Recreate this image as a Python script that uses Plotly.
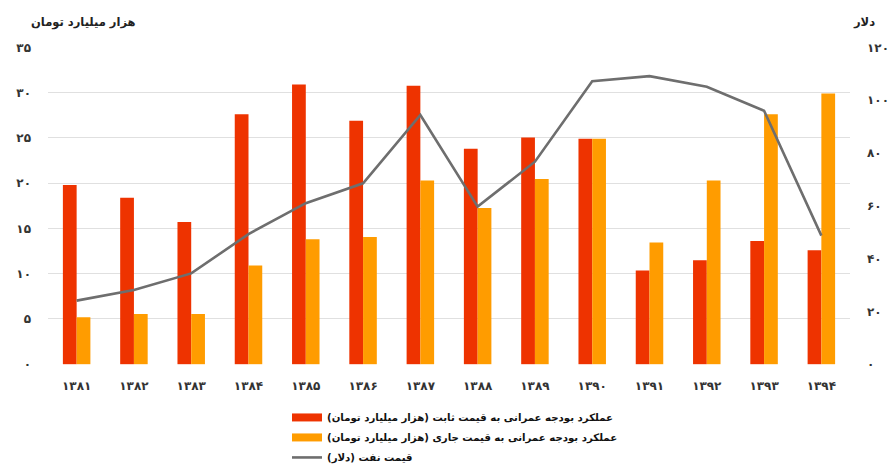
import plotly.graph_objects as go

years = ["۱۳۸۱", "۱۳۸۲", "۱۳۸۳", "۱۳۸۴", "۱۳۸۵", "۱۳۸۶", "۱۳۸۷",
         "۱۳۸۸", "۱۳۸۹", "۱۳۹۰", "۱۳۹۱", "۱۳۹۲", "۱۳۹۳", "۱۳۹۴"]
constant_price = [19.8, 18.4, 15.7, 27.6, 30.9, 26.9, 30.75, 23.8, 25.05, 24.9, 10.35, 11.5, 13.6, 12.6]
current_price = [5.2, 5.55, 5.55, 10.9, 13.8, 14.05, 20.3, 17.25, 20.45, 24.9, 13.45, 20.3, 27.6, 29.9]
oil_price = [24.1, 28.1, 34.4, 49.3, 61.0, 68.5, 94.4, 59.7, 76.7, 107.2, 109.1, 105.1, 96.0, 48.7]

left_vals = [0, 5, 10, 15, 20, 25, 30, 35]
left_text = ["۰", "۵", "۱۰", "۱۵", "۲۰", "۲۵", "۳۰", "۳۵"]
right_vals = [0, 20, 40, 60, 80, 100, 120]
right_text = ["۰", "۲۰", "۴۰", "۶۰", "۸۰", "۱۰۰", "۱۲۰"]

name_const = "عملکرد بودجه عمرانی به قیمت ثابت (هزار میلیارد تومان)"
name_curr = "عملکرد بودجه عمرانی به قیمت جاری (هزار میلیارد تومان)"
name_oil = "قیمت نفت (دلار)"
title_left = "هزار میلیارد تومان"
title_right = "دلار"

RED = "#EE3300"
ORANGE = "#FF9C00"
GRAY = "#6E6E6E"
FONT = "DejaVu Sans"

pad = 0.06
left_range = [-pad, 35 + pad]
right_range = [-pad * 120 / 35, 120 + pad * 120 / 35]

fig = go.Figure()
fig.add_trace(go.Bar(x=years, y=constant_price, name=name_const, marker_color=RED,
                     marker_line_width=0, showlegend=False, legendgroup="a"))
fig.add_trace(go.Bar(x=years, y=current_price, name=name_curr, marker_color=ORANGE,
                     marker_line_width=0, showlegend=False, legendgroup="b"))
fig.add_trace(go.Scatter(x=years, y=oil_price, name=name_oil, mode="lines",
                         line=dict(color=GRAY, width=2.6), yaxis="y2",
                         showlegend=False, legendgroup="c"))
# legend entries (wide swatches as in the reference)
fig.add_trace(go.Scatter(x=[None], y=[None], mode="lines", name=name_const,
                         line=dict(color=RED, width=8), legendgroup="a"))
fig.add_trace(go.Scatter(x=[None], y=[None], mode="lines", name=name_curr,
                         line=dict(color=ORANGE, width=8), legendgroup="b"))
fig.add_trace(go.Scatter(x=[None], y=[None], mode="lines", name=name_oil,
                         line=dict(color=GRAY, width=2.6), legendgroup="c"))

tickfont = dict(family=FONT, size=12, color="#333333", weight="bold")

fig.update_layout(
    width=896, height=468,
    margin=dict(l=0, r=0, t=0, b=0, autoexpand=False),
    paper_bgcolor="white", plot_bgcolor="white",
    barmode="group", bargap=0.52, bargroupgap=0,
    font=dict(family=FONT, color="#222222"),
    xaxis=dict(type="category", domain=[48 / 896, 850 / 896], automargin=False,
               showgrid=False, showline=False, zeroline=False,
               ticks="", tickfont=tickfont, ticklabelstandoff=12, fixedrange=True),
    yaxis=dict(range=left_range, domain=[0.2205, 0.9], automargin=False,
               tickvals=left_vals, ticktext=left_text,
               showgrid=True, gridcolor="#E0E0E0", gridwidth=1,
               zeroline=False, showline=False, ticks="", tickfont=tickfont,
               ticklabelstandoff=16),
    yaxis2=dict(range=right_range, overlaying="y", side="right", automargin=False,
                tickvals=right_vals, ticktext=right_text,
                showgrid=False, zeroline=False, showline=False, ticks="",
                tickfont=tickfont, ticklabelstandoff=16),
    legend=dict(x=287 / 896, xanchor="left", y=0.139, yanchor="top",
                orientation="v", tracegroupgap=1,
                font=dict(family=FONT, size=10.2, color="#111111", weight="bold"),
                bgcolor="rgba(0,0,0,0)"),
    annotations=[
        dict(text=title_left, xref="paper", yref="paper", x=29 / 896, y=(468 - 22) / 468,
             xanchor="left", yanchor="middle", showarrow=False,
             font=dict(family=FONT, size=11.5, color="#222222", weight="bold")),
        dict(text=title_right, xref="paper", yref="paper", x=851 / 896, y=(468 - 22) / 468,
             xanchor="left", yanchor="middle", showarrow=False,
             font=dict(family=FONT, size=11.5, color="#222222", weight="bold")),
    ],
)

fig.write_html("out.html", config={"displayModeBar": False},
               post_script="document.body.style.margin='0';document.body.style.overflow='hidden';")
